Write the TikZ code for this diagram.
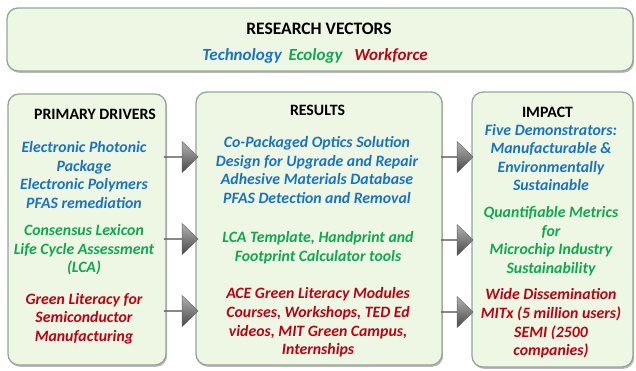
\documentclass[tikz,border=0pt]{standalone}
\usepackage{fontspec}
\setmainfont{Carlito}
\usetikzlibrary{shapes.arrows,shadows,calc}

\definecolor{techblue}{HTML}{1A72C4}
\definecolor{ecogreen}{HTML}{10A84E}
\definecolor{workred}{HTML}{C00010}
\definecolor{panelfill}{HTML}{EDF7E4}
\definecolor{paneledge}{HTML}{98A498}

\tikzset{
  panel/.style={draw=paneledge, line width=1.3pt, fill=panelfill,
    rounded corners=11pt, inner sep=0pt,
    drop shadow={shadow xshift=1.2pt, shadow yshift=-1.8pt, opacity=0.45, fill=black!60}},
  heading/.style={font=\fontsize{15.8}{18}\selectfont\bfseries, text=black, inner sep=0pt},
  item/.style={align=center, inner sep=0pt,
    font=\fontsize{15.8}{18.6}\selectfont\bfseries\itshape},
  blockarrow/.style={single arrow, draw=black!62, line width=0.4pt,
    shading=axis, top color=black!30, bottom color=black!72,
    minimum width=31pt, single arrow head extend=8pt,
    single arrow tip angle=88, inner sep=0pt, anchor=center}
}

\begin{document}
\begin{tikzpicture}[x=1pt, y=-1pt]
\useasboundingbox (0,0) rectangle (636,370);

% panels
\node[panel, minimum width=626pt, minimum height=63pt] (vec) at (320,39.5) {};
\node[panel, minimum width=158pt, minimum height=271pt] (drv) at (87,229.5) {};
\node[panel, minimum width=246pt, minimum height=273pt] (res) at (319,228.5) {};
\node[panel, minimum width=161pt, minimum height=275pt] (imp) at (552.5,229.5) {};

% research vectors
\node[heading, font=\fontsize{17.5}{20}\selectfont\bfseries, anchor=base] (vtitle) at (319,34) {RESEARCH VECTORS};
\node[item, font=\fontsize{17}{20}\selectfont\bfseries\itshape, anchor=base] (vline) at (315,60)
  {\textcolor{techblue}{Technology}\hspace{0.4em}\textcolor{ecogreen}{Ecology}\hspace{0.7em}\textcolor{workred}{Workforce}};

% primary drivers
\node[heading] (dtitle) at (95,114) {PRIMARY DRIVERS};
\node[item, text=techblue] (d1) at (84,175)
  {Electronic Photonic\\Package\\Electronic Polymers\\PFAS remediation};
\node[item, text=ecogreen] (d2) at (84,250)
  {Consensus Lexicon\\Life Cycle Assessment\\(LCA)};
\node[item, text=workred] (d3) at (84,318.5)
  {Green Literacy for\\Semiconductor\\Manufacturing};

% results
\node[heading] (rtitle) at (317.5,110) {RESULTS};
\node[item, text=techblue] (r1) at (317,170)
  {Co-Packaged Optics Solution\\Design for Upgrade and Repair\\Adhesive Materials Database\\PFAS Detection and Removal};
\node[item, text=ecogreen] (r2) at (318,247.5)
  {LCA Template, Handprint and\\Footprint Calculator tools};
\node[item, text=workred] (r3) at (318,322.5)
  {ACE Green Literacy Modules\\Courses, Workshops, TED Ed\\videos, MIT Green Campus,\\Internships};

% impact
\node[heading] (ititle) at (547.5,112) {IMPACT};
\node[item, text=techblue] (i1) at (551,157.5)
  {Five Demonstrators:\\Manufacturable \&\\Environmentally\\Sustainable};
\node[item, text=ecogreen] (i2) at (551,241)
  {Quantifiable Metrics\\for\\Microchip Industry\\Sustainability};
\node[item, text=workred] (i3) at (551,323.5)
  {Wide Dissemination\\MITx (5 million users)\\SEMI (2500\\companies)};

% block arrows between the panels
\foreach \yy [count=\k] in {157,239,311}
  \node[blockarrow, minimum height=34pt] (da\k)
    at ($(drv.east |- 0,\yy)!.5!(res.west |- 0,\yy)$) {};
\foreach \yy [count=\k] in {157,240,312}
  \node[blockarrow, minimum height=32pt] (ra\k)
    at ($(res.east |- 0,\yy)!.5!(imp.west |- 0,\yy)$) {};
\end{tikzpicture}
\end{document}
